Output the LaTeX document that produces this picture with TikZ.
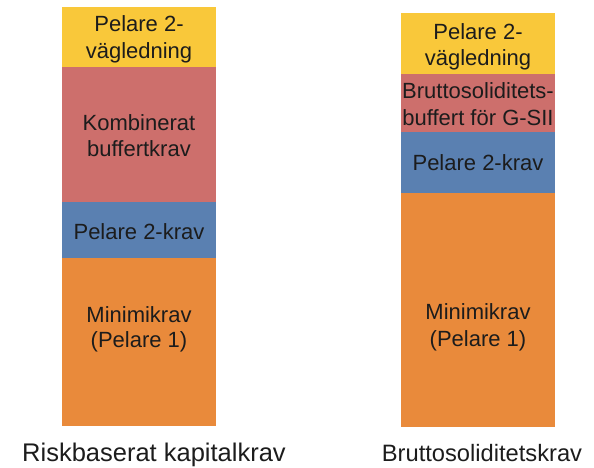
\documentclass[tikz,border=0pt]{standalone}
\usepackage{fontspec}
\setmainfont{Liberation Sans}
\definecolor{cyel}{HTML}{F9C83A}
\definecolor{cpink}{HTML}{CD6F6C}
\definecolor{cblue}{HTML}{5A80B1}
\definecolor{corange}{HTML}{E98A3B}
\definecolor{ctext}{HTML}{1C1C1C}
\begin{document}
\begin{tikzpicture}[x=1pt,y=-1pt,
  seg/.style={draw=none, inner sep=0pt, minimum width=154pt},
  txt/.style={anchor=base, inner sep=0pt, text=ctext, font=\fontsize{22}{26}\selectfont},
  lab/.style={anchor=base, inner sep=0pt, text=ctext}]
\useasboundingbox (0,0) rectangle (594,468);
% left bar
\node[seg, fill=cyel,    minimum height=60pt]  (l1) at (139.3,37) {};
\node[seg, fill=cpink,   minimum height=135pt] (l2) at (139.3,134.5) {};
\node[seg, fill=cblue,   minimum height=56pt]  (l3) at (139.3,230) {};
\node[seg, fill=corange, minimum height=168pt] (l4) at (139.3,342) {};
\node[txt] (l1a) at (139,32) {Pelare 2-};
\node[txt] (l1b) at (139,58.5) {vägledning};
\node[txt] (l2a) at (139,131) {Kombinerat};
\node[txt] (l2b) at (139,156) {buffertkrav};
\node[txt] (l3a) at (139,239) {Pelare 2-krav};
\node[txt] (l4a) at (139,322) {Minimikrav};
\node[txt] (l4b) at (139,347.5) {(Pelare 1)};
% right bar
\node[seg, fill=cyel,    minimum height=61pt]  (r1) at (478,43.5) {};
\node[seg, fill=cpink,   minimum height=58pt]  (r2) at (478,103) {};
\node[seg, fill=cblue,   minimum height=61pt]  (r3) at (478,162.5) {};
\node[seg, fill=corange, minimum height=234pt] (r4) at (478,310) {};
\node[txt] (r1a) at (478,40) {Pelare 2-};
\node[txt] (r1b) at (478,65.5) {vägledning};
\node[txt] (r2a) at (478,99) {Bruttosoliditets-};
\node[txt] (r2b) at (478,126) {buffert för G-SII};
\node[txt] (r3a) at (478,170) {Pelare 2-krav};
\node[txt] (r4a) at (478,319) {Minimikrav};
\node[txt] (r4b) at (478,346) {(Pelare 1)};
% labels
\node[lab, font=\fontsize{25.5}{30}\selectfont] (ll) at (154,461.5) {Riskbaserat kapitalkrav};
\node[lab, font=\fontsize{23.7}{28}\selectfont] (rl) at (482,461.5) {Bruttosoliditetskrav};
\end{tikzpicture}
\end{document}
